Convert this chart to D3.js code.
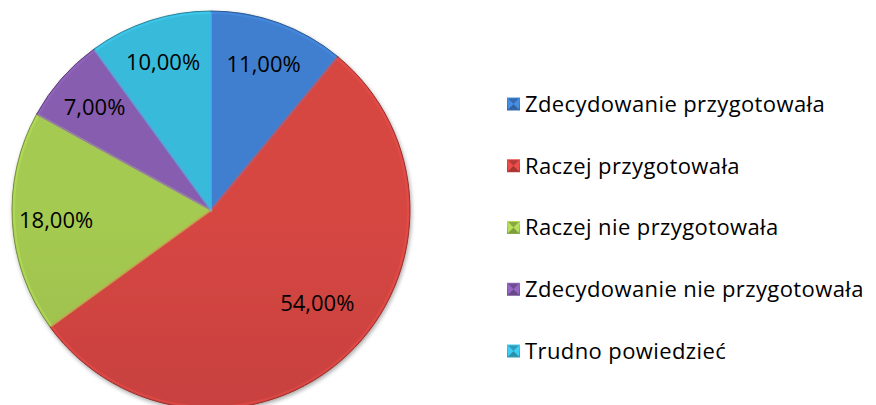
<!DOCTYPE html>
<html>
<head>
<meta charset="utf-8">
<script src="https://cdn.jsdelivr.net/npm/d3@7"></script>
<style>
  body { margin: 0; background: #fff; }
  svg { display: block; }
</style>
</head>
<body>
<svg id="chart" width="876" height="405"></svg>
<script>
// data
var categories = ["Zdecydowanie przygotowała", "Raczej przygotowała", "Raczej nie przygotowała", "Zdecydowanie nie przygotowała", "Trudno powiedzieć"]
var values = [11, 54, 18, 7, 10]
var colors = ["#3d7ac6", "#cd4340", "#9ec24e", "#8159a8", "#37b2d2"]

var svg = d3.select("#chart")
var width = 876, height = 405
var cx = 211, cy = 210, radius = 199

var pie = d3.pie().value(function (d) { return d.value }).sort(null)
var arcs = pie(categories.map(function (c, i) { return { name: c, value: values[i], color: colors[i] } }))

var defs = svg.append("defs")
// soft shadow under the pie
var f = defs.append("filter").attr("id", "shadow").attr("x", "-10%").attr("y", "-10%").attr("width", "120%").attr("height", "120%")
f.append("feGaussianBlur").attr("in", "SourceAlpha").attr("stdDeviation", 2).attr("result", "b")
f.append("feOffset").attr("in", "b").attr("dx", 1).attr("dy", 2).attr("result", "o")
f.append("feComponentTransfer").attr("in", "o").attr("result", "s")
  .append("feFuncA").attr("type", "linear").attr("slope", 0.35)
var fm = f.append("feMerge")
fm.append("feMergeNode").attr("in", "s")
fm.append("feMergeNode").attr("in", "SourceGraphic")

// vertical shading, lighter on top darker at bottom
arcs.forEach(function (d, i) {
  var g = defs.append("linearGradient").attr("id", "grad" + i)
    .attr("gradientUnits", "userSpaceOnUse")
    .attr("x1", 0).attr("y1", cy - radius).attr("x2", 0).attr("y2", cy + radius)
  g.append("stop").attr("offset", "0%").attr("stop-color", d3.color(d.data.color).brighter(0.12))
  g.append("stop").attr("offset", "100%").attr("stop-color", d3.color(d.data.color).darker(0.3))
  var m = defs.append("linearGradient").attr("id", "mk" + i)
    .attr("x1", 0).attr("y1", 0).attr("x2", 0).attr("y2", 1)
  m.append("stop").attr("offset", "0%").attr("stop-color", d3.color(d.data.color).brighter(0.4))
  m.append("stop").attr("offset", "100%").attr("stop-color", d3.color(d.data.color).darker(0.4))
})

var arc = d3.arc().innerRadius(0).outerRadius(radius)
var innerArc = d3.arc().innerRadius(0).outerRadius(radius - 2)
var labelArc = d3.arc().innerRadius(radius * 0.78).outerRadius(radius * 0.78)

var pieG = svg.append("g").attr("transform", "translate(" + cx + "," + cy + ")")
var sliceG = pieG.append("g").attr("filter", "url(#shadow)")

sliceG.selectAll(".slice")
  .data(arcs)
  .enter()
  .append("path")
  .attr("class", "slice")
  .attr("d", arc)
  .attr("fill", function (d, i) { return "url(#grad" + i + ")" })
  .attr("stroke", function (d) { return d3.color(d.data.color).darker(0.9) })
  .attr("stroke-width", 1)

// bevel highlight along the edges
pieG.selectAll(".bevel")
  .data(arcs)
  .enter()
  .append("path")
  .attr("class", "bevel")
  .attr("d", innerArc)
  .attr("fill", "none")
  .attr("stroke", function (d) { return d3.color(d.data.color).brighter(0.5) })
  .attr("stroke-opacity", 0.45)
  .attr("stroke-width", 2)

pieG.selectAll(".lbl")
  .data(arcs)
  .enter()
  .append("text")
  .attr("class", "lbl")
  .attr("transform", function (d) {
    var c = labelArc.centroid(d)
    // the big slice label sits a bit higher in the original
    if (d.data.value > 50) c[1] -= 20
    return "translate(" + c[0] + "," + c[1] + ")"
  })
  .attr("text-anchor", "middle")
  .attr("dy", "0.36em")
  .style("font-family", "'Open Sans', sans-serif")
  .style("font-size", "22px")
  .attr("fill", "#000")
  .text(function (d) { return d.data.value.toFixed(2).replace(".", ",") + "%" })

// legend
var legendY = d3.scalePoint().domain(categories).range([104, 351])
var legend = svg.append("g").selectAll(".leg")
  .data(arcs)
  .enter()
  .append("g")
  .attr("class", "leg")
  .attr("transform", function (d) { return "translate(507," + legendY(d.data.name) + ")" })

legend.append("rect")
  .attr("x", 0).attr("y", -6.5).attr("width", 13).attr("height", 13)
  .attr("fill", function (d, i) { return "url(#mk" + i + ")" })
legend.append("path")
  .attr("d", "M1,-5.5L6.5,0L12,-5.5Z")
  .attr("fill", function (d) { return d3.color(d.data.color).darker(0.4) })
legend.append("path")
  .attr("d", "M1,5.5L6.5,0L12,5.5Z")
  .attr("fill", function (d) { return d3.color(d.data.color).darker(0.6) })
legend.append("path")
  .attr("d", "M1,-5.5L6.5,0L1,5.5Z M12,-5.5L6.5,0L12,5.5Z")
  .attr("fill", function (d) { return d3.color(d.data.color).brighter(0.4) })

legend.append("text")
  .attr("x", 18)
  .attr("dy", "0.36em")
  .style("font-family", "'Open Sans', sans-serif")
  .style("font-size", "22px")
  .style("letter-spacing", "0.4px")
  .attr("fill", "#000")
  .text(function (d) { return d.data.name })
</script>
</body>
</html>
